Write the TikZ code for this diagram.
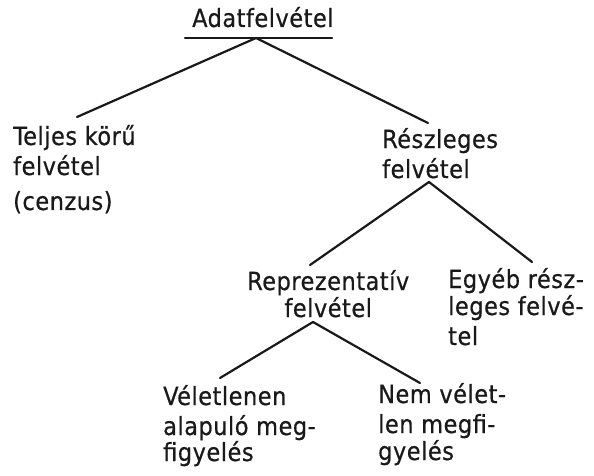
\documentclass[tikz,border=0pt]{standalone}
\usepackage{fontspec}
\setmainfont[FakeBold=0.6,LetterSpace=2]{DejaVu Sans Condensed}
\newcommand{\lines}[2][l]{\begin{tabular}[t]{@{}#1@{}}#2\end{tabular}}
\begin{document}
\begin{tikzpicture}[x=1pt,y=1pt,
  lbl/.style={anchor=base west, inner sep=0pt, text=black!90,
    font=\fontsize{25}{30}\selectfont},
  conn/.style={line width=2.2pt, line cap=round, black!90}]
\useasboundingbox (0,0) rectangle (594,-476);
% labels
\node[lbl] (root) at (192,-27) {Adatfelvétel};
\node[lbl] (teljes) at (13,-145) {\lines{Teljes körű\\felvétel\\[5pt](cenzus)}};
\node[lbl] (reszl) at (382,-148) {\lines{Részleges\\felvétel}};
\node[lbl] (repr) at (247,-290) {\lines[c]{Reprezentatív\\[-3pt]felvétel}};
\node[lbl] (egyeb) at (448,-288) {\lines{Egyéb rész-\\[-3pt]leges felvé-\\tel}};
\node[lbl] (velet) at (163,-405) {\lines{Véletlenen\\alapuló meg-\\[-4pt]figyelés}};
\node[lbl] (nem) at (378,-403) {\lines{Nem vélet-\\len megfi-\\[-3pt]gyelés}};
% connector points
\coordinate (ulL) at (185,-38);
\coordinate (ulR) at (332,-38);
\coordinate (rootApex) at (256,-38);
\coordinate (teljesTop) at (77,-117);
\coordinate (reszlTop) at (428,-123);
\coordinate (reszlApex) at (429,-182);
\coordinate (reprTop) at (310,-265);
\coordinate (egyebTop) at (532,-262);
\coordinate (reprApex) at (313,-322);
\coordinate (veletTop) at (220,-378);
\coordinate (nemTop) at (420,-383);
% connectors
\draw[conn] (ulL) -- (ulR);
\draw[conn] (rootApex) -- (teljesTop);
\draw[conn] (rootApex) -- (reszlTop);
\draw[conn] (reszlApex) -- (reprTop);
\draw[conn] (reszlApex) -- (egyebTop);
\draw[conn] (reprApex) -- (veletTop);
\draw[conn] (reprApex) -- (nemTop);
\end{tikzpicture}
\end{document}
